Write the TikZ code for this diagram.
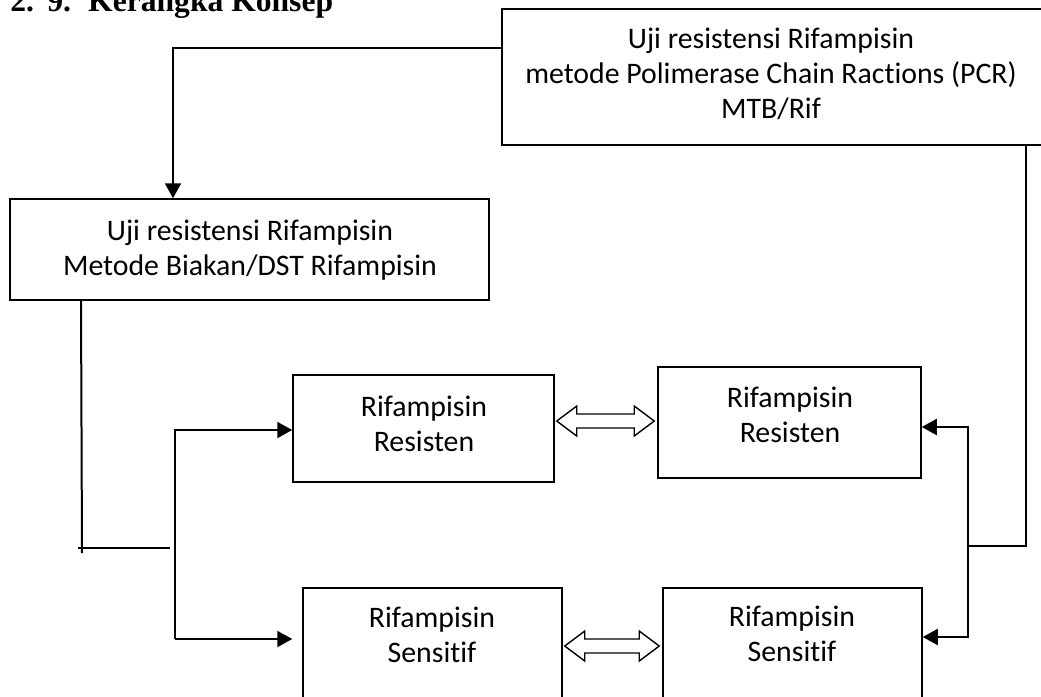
\documentclass[tikz,border=0pt]{standalone}
\usepackage{fontspec}
\setmainfont{Carlito}[Ligatures=NoCommon]
\newfontfamily\titlefont{Liberation Serif}
\usetikzlibrary{arrows.meta,calc,fit}
\tikzset{
  box/.style={draw, line width=0.75pt, inner sep=0pt},
  txt/.style={align=center, inner sep=0pt, font=\fontsize{14.9}{17.4}\selectfont},
  conn/.style={line width=1pt},
  tip/.style={-{Triangle[length=7.5pt,width=8pt]}},
  dbl/.style={draw, line width=0.7pt, fill=white, line join=miter},
}
\newcommand\dblarrow[3]{%
  \draw[dbl] let \p1=(#1 |- 0,#3), \p2=(#2 |- 0,#3) in
    (\x1+1pt,\y1) -- (\x1+11pt,\y1+7.5pt) -- (\x1+11pt,\y1+3.5pt)
    -- (\x2-11.5pt,\y1+3.5pt) -- (\x2-11.5pt,\y1+7.5pt) -- (\x2-1.5pt,\y1)
    -- (\x2-11.5pt,\y1-7.5pt) -- (\x2-11.5pt,\y1-3.5pt)
    -- (\x1+11pt,\y1-3.5pt) -- (\x1+11pt,\y1-7.5pt) -- cycle;}
\begin{document}
\begin{tikzpicture}[x=0.5pt,y=-0.5pt]
\useasboundingbox (0,0) rectangle (1041,697);
\clip (0,0) rectangle (1041,697);
% title
\node[anchor=base west, inner sep=0pt, font=\titlefont\bfseries\fontsize{15.8}{18}\selectfont] (title) at (10,11) {2.\hspace{6.6pt}9.\hspace{8.6pt}Kerangka Konsep};
% boxes
\node[box, fit={(502,9) (1046,145)}] (T) {};
\node[box, fit={(10,199) (489,300)}] (L) {};
\node[box, fit={(293,375) (554,482)}] (RR1) {};
\node[box, fit={(658,367) (921,478)}] (RR2) {};
\node[box, fit={(303,588) (562,730)}] (RS1) {};
\node[box, fit={(663,588) (922,730)}] (RS2) {};
% texts
\node[txt] (tT) at (771,74) {Uji resistensi Rifampisin\\metode Polimerase Chain Ractions (PCR)\\MTB/Rif};
\node[txt] (tL) at (250,250) {Uji resistensi Rifampisin\\Metode Biakan/DST Rifampisin};
\node[txt] (tRR1) at (424,424) {Rifampisin\\Resisten};
\node[txt] (tRR2) at (790,415) {Rifampisin\\Resisten};
\node[txt] (tRS1) at (432,635) {Rifampisin\\Sensitif};
\node[txt] (tRS2) at (792,634) {Rifampisin\\Sensitif};
% connectors
\draw[conn,tip] (T.west |- 0,48) -| (L.north -| 173,0);
\coordinate (lb) at (82,553);
\draw[conn] (L.south -| 81,0) -- (lb);
\coordinate (h1) at (78,548);
\coordinate (h2) at (170,548);
\draw[conn] (h1) -- (h2);
\coordinate (lj) at (175,639);
\draw[conn,tip] (lj) |- (RR1.west |- 0,430);
\draw[conn,tip,shorten >=5pt] (lj) -- (RS1.west |- 0,639);
\coordinate (rj) at (1026,546);
\coordinate (rk) at (968,546);
\draw[conn] (T.south -| rj) -- (rj) -- (rk);
\draw[conn,tip] (rk) |- (RR2.east |- 0,427);
\draw[conn,tip] (rk) |- (RS2.east |- 0,637);
% double arrows
\dblarrow{RR1.east}{RR2.west}{421}
\dblarrow{RS1.east}{RS2.west}{646}
\end{tikzpicture}
\end{document}
